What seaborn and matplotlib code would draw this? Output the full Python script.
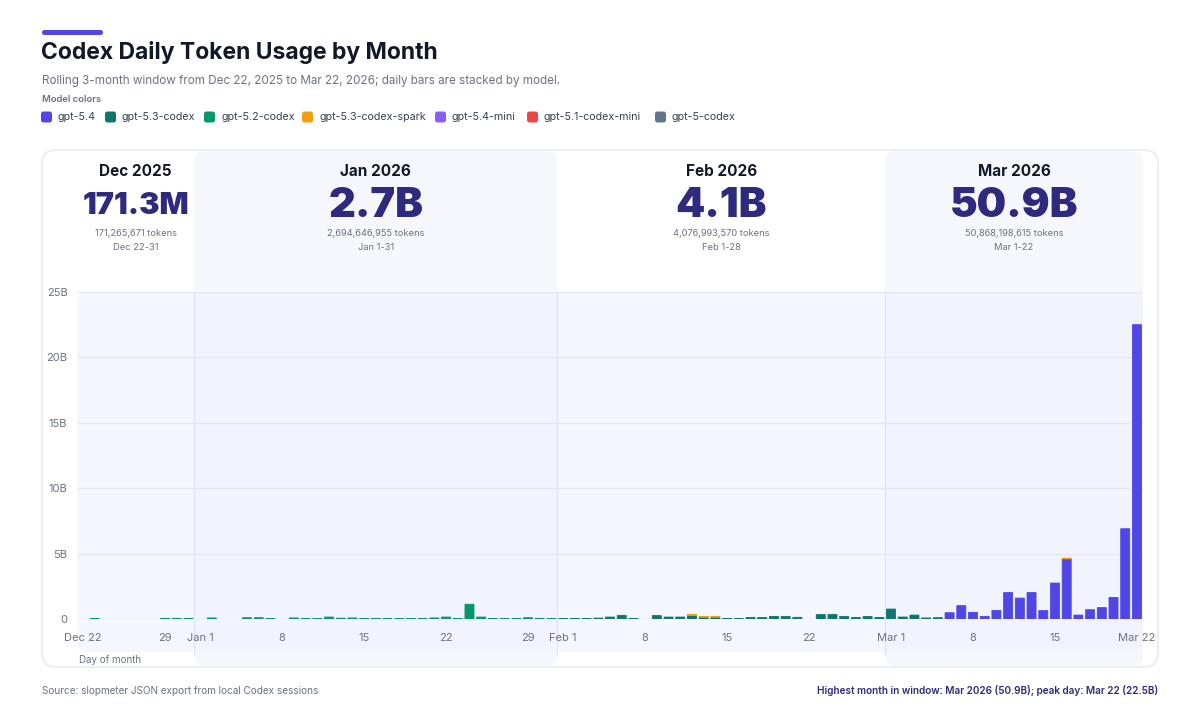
import numpy as np
import pandas as pd
import matplotlib
matplotlib.use("Agg")
import matplotlib.pyplot as plt
from matplotlib.patches import FancyBboxPatch, Rectangle
import seaborn as sns

# ---------------- data (billions of tokens per day) ----------------
models = ["gpt-5.4", "gpt-5.3-codex", "gpt-5.2-codex", "gpt-5.3-codex-spark",
          "gpt-5.4-mini", "gpt-5.1-codex-mini", "gpt-5-codex"]
model_colors = ["#4f46e5", "#0f766e", "#059669", "#f59e0b",
                "#8b5cf6", "#ef4444", "#64748b"]

days = pd.date_range("2025-12-22", "2026-03-22", freq="D")

dec_52 = [0, 0.021, 0, 0, 0, 0, 0, 0.05, 0.05, 0.05]
jan_52 = [0, 0.08, 0, 0, 0.10, 0.10, 0.03, 0, 0.08, 0.02, 0.03, 0.15, 0.06, 0.08,
          0.03, 0.03, 0.02, 0.02, 0.03, 0.03, 0.08, 0.15, 0.03, 1.13, 0.15, 0.03,
          0.02, 0.03, 0.10, 0.05, 0.03]
feb_53 = [0.02, 0.03, 0.03, 0.07, 0.15, 0.28, 0.04, 0, 0.26, 0.15, 0.15, 0.26,
          0.14, 0.14, 0.04, 0.02, 0.12, 0.12, 0.20, 0.20, 0.13, 0, 0.34, 0.34,
          0.20, 0.12, 0.19, 0.12]
feb_spark = [0] * 11 + [0.10, 0.06, 0.06] + [0] * 14
mar_53 = [0.76, 0.15, 0.30, 0.08, 0.10] + [0] * 17
mar_54 = [0] * 5 + [0.48, 1.02, 0.51, 0.20, 0.66, 2.02, 1.60, 2.02, 0.64, 2.75,
                    4.60, 0.30, 0.71, 0.87, 1.65, 6.90, 22.5]
mar_spark = [0] * 15 + [0.05] + [0] * 6

series = {
    "gpt-5.4": [0] * 10 + [0] * 31 + [0] * 28 + mar_54,
    "gpt-5.3-codex": [0] * 10 + [0] * 31 + feb_53 + mar_53,
    "gpt-5.2-codex": dec_52 + jan_52 + [0] * 28 + [0] * 22,
    "gpt-5.3-codex-spark": [0] * 10 + [0] * 31 + feb_spark + mar_spark,
}

month_names = ["Dec 2025", "Jan 2026", "Feb 2026", "Mar 2026"]
month_totals = [171265671, 2694646955, 4076993570, 50868198615]
month_ranges = ["Dec 22-31", "Jan 1-31", "Feb 1-28", "Mar 1-22"]

tick_days = [0, 7, 10, 17, 24, 31, 38, 41, 48, 55, 62, 69, 76, 83, 90]
tick_labels = ["Dec 22", "29", "Jan 1", "8", "15", "22", "29", "Feb 1", "8",
               "15", "22", "Mar 1", "8", "15", "Mar 22"]
y_ticks = [0, 5, 10, 15, 20, 25]
y_labels = ["0", "5B", "10B", "15B", "20B", "25B"]

rows = []
for m, vals in series.items():
    for i, v in enumerate(vals):
        if v > 0:
            rows.append({"day": i, "tokens": v * 1e9, "model": m})
df = pd.DataFrame(rows)

# ---------------- figure ----------------
sns.set_theme(style="white")
plt.rcParams["font.family"] = ["Inter", "DejaVu Sans"]

W, H = 1200, 723
fig = plt.figure(figsize=(12, 7.23), dpi=100)
fig.patch.set_facecolor("white")

bg = fig.add_axes([0, 0, 1, 1], zorder=0)
bg.set_xlim(0, W)
bg.set_ylim(H, 0)
bg.axis("off")

DARK = "#111827"
GRAY = "#6b7280"
INDIGO = "#2e2a7d"

# accent + title
bg.add_patch(FancyBboxPatch((42, 30), 61, 5, boxstyle="round,pad=0,rounding_size=2.5",
                            fc="#4f46e5", ec="none"))
bg.text(41, 52, "Codex Daily Token Usage by Month", fontsize=16.5, fontweight="bold",
        color=DARK, va="center", ha="left")
bg.text(42, 81, "Rolling 3-month window from Dec 22, 2025 to Mar 22, 2026; daily bars are stacked by model.",
        fontsize=8.4, color=GRAY, va="center", ha="left")
bg.text(42, 100, "Model colors", fontsize=6.8, color=GRAY, fontweight="semibold",
        va="center", ha="left")
leg_x = [41, 105, 204, 302, 435, 527, 655]
for x, name, col in zip(leg_x, models, model_colors):
    bg.add_patch(FancyBboxPatch((x, 111.5), 11, 11, boxstyle="round,pad=0,rounding_size=2.5",
                                fc=col, ec="none"))
    bg.text(x + 17, 117, name, fontsize=7.7, color="#374151", va="center", ha="left")

# card
PL, PR, PT, PB = 77.2, 1142.8, 292, 619
n = len(days)
step = (PR - PL) / n
bounds = [PL, PL + 10 * step, PL + 41 * step, PL + 69 * step, PR]

bg.add_patch(FancyBboxPatch((42, 150), 1116, 517, boxstyle="round,pad=0,rounding_size=14",
                            fc="white", ec="#e3e7ef", lw=1, zorder=1))
for k in (1, 3):
    bg.add_patch(FancyBboxPatch((bounds[k], 151), bounds[k + 1] - bounds[k], 515,
                                boxstyle="round,pad=0,rounding_size=10",
                                fc="#f6f7fd", ec="none", zorder=2))
bg.add_patch(FancyBboxPatch((PL, PT), PR - PL, 360, boxstyle="round,pad=0,rounding_size=10",
                            fc="#eef3fd", ec="none", alpha=0.6, zorder=3))
for b in bounds[1:4]:
    bg.plot([b, b], [PT, 655], color="#e2e6f3", lw=1, zorder=4)

# month headers
def fmt_big(v):
    if v >= 1e9:
        return f"{v / 1e9:.1f}B"
    return f"{v / 1e6:.1f}M"

for k in range(4):
    cx = (bounds[k] + bounds[k + 1]) / 2
    bg.text(cx, 172, month_names[k], fontsize=11, fontweight="bold", color=DARK,
            ha="center", va="center", zorder=5)
    bg.text(cx, 206, fmt_big(month_totals[k]), fontsize=22 if k == 0 else 30,
            fontweight="black", color=INDIGO, ha="center", va="center", zorder=5)
    bg.text(cx, 233, f"{month_totals[k]:,} tokens", fontsize=6.7, color=GRAY,
            ha="center", va="center", zorder=5)
    bg.text(cx, 248, month_ranges[k], fontsize=6.7, color=GRAY,
            ha="center", va="center", zorder=5)

bg.text(79, 660, "Day of month", fontsize=7, color=GRAY, ha="left", va="center", zorder=5)

# footer
bg.text(42, 691, "Source: slopmeter JSON export from local Codex sessions", fontsize=7.2,
        color=GRAY, ha="left", va="center")
bg.text(1158, 691, "Highest month in window: Mar 2026 (50.9B); peak day: Mar 22 (22.5B)",
        fontsize=7.2, color=INDIGO, fontweight="semibold", ha="right", va="center")

# ---------------- bar chart ----------------
ax = fig.add_axes([PL / W, (H - PB) / H, (PR - PL) / W, (PB - PT) / H], zorder=2)
ax.set_facecolor("none")
order = ["gpt-5.3-codex-spark", "gpt-5.4", "gpt-5.3-codex", "gpt-5.2-codex"]
pal = dict(zip(models, model_colors))
sns.histplot(data=df, x="day", weights="tokens", hue="model", hue_order=order,
             palette=pal, multiple="stack", discrete=True, shrink=0.77,
             linewidth=0, alpha=1, legend=False, ax=ax, zorder=3)
# give tiny non-empty bars a hairline outline so they stay visible
for p in ax.patches:
    if p.get_height() > 0:
        p.set_edgecolor(p.get_facecolor())
        p.set_linewidth(0.6)
        p.set_snap(False)
        p.set_antialiased(True)

ax.set_xlim(-0.5, n - 0.5)
ax.set_ylim(0, 25e9)
ax.set_yticks([v * 1e9 for v in y_ticks])
ax.set_yticklabels(y_labels)
ax.set_xticks(tick_days)
ax.set_xticklabels(tick_labels)
ax.set_xlabel("")
ax.set_ylabel("")
for s in ax.spines.values():
    s.set_visible(False)
ax.grid(axis="y", color="#e3e7f1", lw=1)
ax.grid(axis="x", visible=False)
ax.set_axisbelow(True)
ax.tick_params(axis="y", length=0, pad=7, labelsize=8, labelcolor=GRAY)
ax.tick_params(axis="x", length=4, width=0.8, color="#cfd6e3", pad=8,
               labelsize=8, labelcolor=GRAY, direction="inout")

fig.savefig("out.png", dpi=100, facecolor="white")
